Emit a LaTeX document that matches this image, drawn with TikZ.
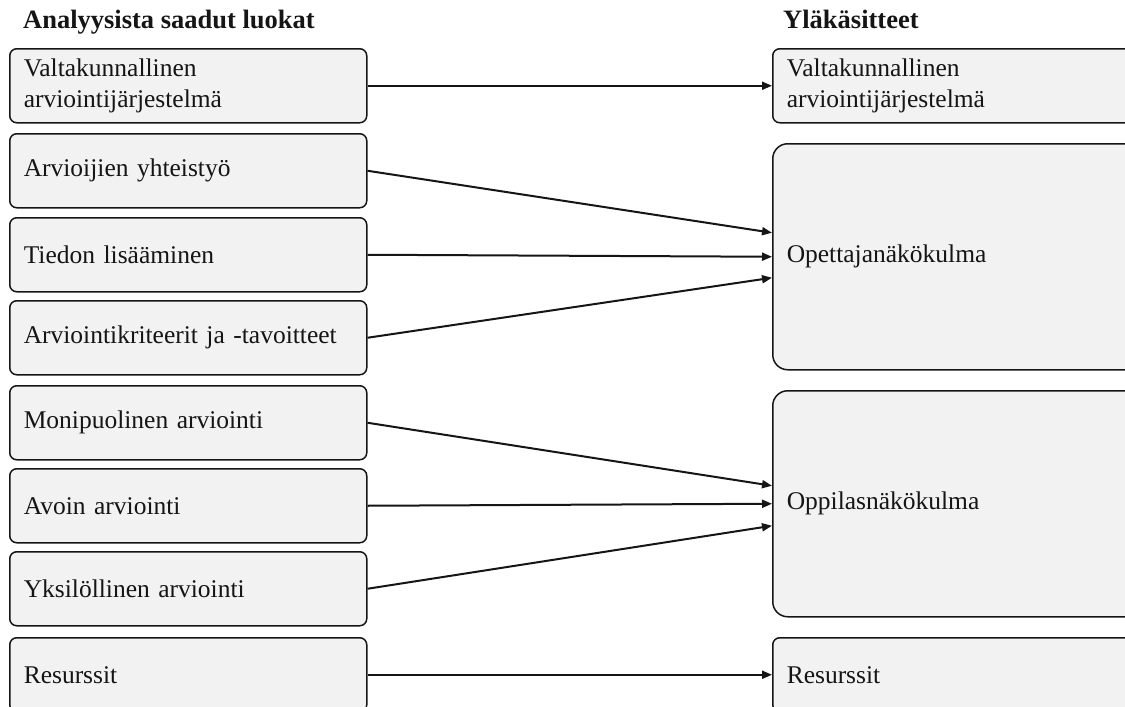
\documentclass[tikz,border=0pt]{standalone}
\usepackage{fontspec}
\setmainfont{Liberation Serif}
\usetikzlibrary{arrows.meta,calc}
\definecolor{boxfill}{HTML}{F2F2F2}
\definecolor{ink}{HTML}{151515}
\begin{document}
\begin{tikzpicture}[x=1pt,y=-1pt,
  cat/.style={draw=ink, fill=boxfill, line width=1.5pt, rounded corners=7pt, anchor=north west,
    minimum width=357pt, minimum height=74pt, text width=329pt, inner xsep=14pt, inner ysep=0pt,
    align=left, font=\fontsize{25.5}{31}\selectfont, text=ink},
  topic/.style={cat, minimum width=370pt, text width=342pt},
  bigtopic/.style={topic, rounded corners=15pt, minimum height=226pt},
  link/.style={draw=ink, line width=2pt, -{Triangle[length=10pt,width=8pt]}},
  head/.style={anchor=base west, font=\fontsize{26.5}{30}\selectfont\bfseries, text=ink, inner sep=0pt}]
\useasboundingbox (0,0) rectangle (1125,707);
\clip (0,0) rectangle (1125,707);

\node[head] (h1) at (23,28) {Analyysista saadut luokat};
\node[head] (h2) at (783,28) {Yläkäsitteet};

\node[cat] (l1) at (9,48) {Valtakunnallinen\\arviointijärjestelmä};
\node[cat] (l2) at (9,133) {Arvioijien yhteistyö};
\node[cat] (l3) at (9,217) {Tiedon lisääminen};
\node[cat] (l4) at (9,300) {Arviointikriteerit ja -tavoitteet};
\node[cat] (l5) at (9,385) {Monipuolinen arviointi};
\node[cat] (l6) at (9,468) {Avoin arviointi};
\node[cat] (l7) at (9,551) {Yksilöllinen arviointi};
\node[cat] (l8) at (9,637) {Resurssit};

\node[topic] (r1) at (772,48) {Valtakunnallinen\\arviointijärjestelmä};
\node[bigtopic] (r2) at (772,143) {Opettajanäkökulma};
\node[bigtopic] (r3) at (772,390) {Oppilasnäkökulma};
\node[topic] (r4) at (772,637) {Resurssit};

\draw[link] (l1.east) -- (r1.west);
\draw[link] (l2.east) -- ($(r2.west)+(0,-24)$);
\draw[link] (l3.east) -- (r2.west);
\draw[link] (l4.east) -- ($(r2.west)+(0,21)$);
\draw[link] (l5.east) -- ($(r3.west)+(0,-18)$);
\draw[link] (l6.east) -- (r3.west);
\draw[link] (l7.east) -- ($(r3.west)+(0,22)$);
\draw[link] (l8.east) -- (r4.west);
\end{tikzpicture}
\end{document}
